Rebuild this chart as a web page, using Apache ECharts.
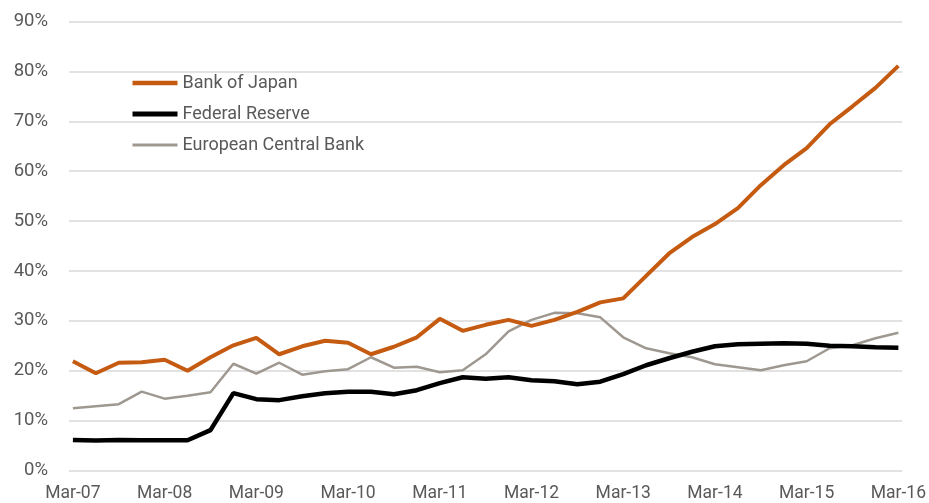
<!DOCTYPE html>
<html>
<head>
<meta charset="utf-8">
<script src="https://cdn.jsdelivr.net/npm/echarts@6/dist/echarts.min.js"></script>
<style>
html,body{margin:0;padding:0;background:#fff;}
#chart{width:929px;height:503px;}
</style>
</head>
<body>
<div id="chart"></div>
<script>
const categories = ["Mar-07","Jun-07","Sep-07","Dec-07","Mar-08","Jun-08","Sep-08","Dec-08","Mar-09","Jun-09","Sep-09","Dec-09","Mar-10","Jun-10","Sep-10","Dec-10","Mar-11","Jun-11","Sep-11","Dec-11","Mar-12","Jun-12","Sep-12","Dec-12","Mar-13","Jun-13","Sep-13","Dec-13","Mar-14","Jun-14","Sep-14","Dec-14","Mar-15","Jun-15","Sep-15","Dec-15","Mar-16"];
const bankOfJapan = [21.9,19.5,21.6,21.7,22.2,20.0,22.7,25.1,26.6,23.3,24.9,26.0,25.6,23.3,24.8,26.7,30.4,28.0,29.2,30.2,29.0,30.2,31.8,33.7,34.5,39.0,43.5,46.8,49.4,52.6,57.2,61.2,64.6,69.4,73.0,76.7,81.1];
const federalReserve = [6.1,6.0,6.1,6.05,6.05,6.05,8.1,15.5,14.3,14.1,14.9,15.5,15.8,15.8,15.3,16.1,17.5,18.7,18.4,18.7,18.1,17.9,17.3,17.8,19.3,21.1,22.5,23.8,24.9,25.3,25.4,25.5,25.4,25.0,24.9,24.7,24.6];
const europeanCentralBank = [12.5,12.9,13.3,15.8,14.4,15.0,15.7,21.4,19.4,21.6,19.2,19.9,20.3,22.7,20.6,20.8,19.7,20.1,23.3,27.9,30.2,31.6,31.5,30.7,26.7,24.5,23.5,22.7,21.3,20.7,20.1,21.1,21.9,24.5,25.1,26.5,27.6];
const xTickLabels = ["Mar-07","Mar-08","Mar-09","Mar-10","Mar-11","Mar-12","Mar-13","Mar-14","Mar-15","Mar-16"];
const yTicks = [0,10,20,30,40,50,60,70,80,90];
const seriesNames = ['Bank of Japan','Federal Reserve','European Central Bank'];

const font = 'Roboto, "Liberation Sans", Arial, sans-serif';
const xTickIdx = xTickLabels.map(l => categories.indexOf(l));
const toPairs = arr => arr.map((v, i) => [i, v]);
const colors = ['#C55A11','#000000','#9E9891'];
const widths = [4, 4.5, 2.5];
const legendWidths = [4.5, 5, 3];

const chart = echarts.init(document.getElementById('chart'), null, {renderer:'canvas'});
chart.setOption({
  animation:false,
  backgroundColor:'#fff',
  grid:{left:69,right:25,top:21.5,bottom:32.5},
  legend:{
    orient:'vertical', left:125, top:69, itemGap:13,
    itemWidth:45, itemHeight:14,
    itemStyle:{opacity:0},
    textStyle:{fontFamily:font,fontSize:18,color:'#595959'},
    data:seriesNames.map((n,i)=>({name:n,lineStyle:{width:legendWidths[i],color:colors[i]}}))
  },
  xAxis:{
    type:'value', min:-0.17, max:categories.length-1+0.17,
    axisLine:{show:false},
    axisTick:{show:false},
    axisLabel:{
      customValues:xTickIdx,
      formatter:v => categories[Math.round(v)] || '',
      fontFamily:font,fontSize:17.5,color:'#595959',margin:14
    },
    splitLine:{show:false}
  },
  yAxis:{
    type:'value', min:yTicks[0], max:yTicks[yTicks.length-1], interval:10,
    axisLine:{show:false}, axisTick:{show:false},
    axisLabel:{formatter:'{value}%',fontFamily:font,fontSize:18.5,color:'#595959',margin:21},
    splitLine:{lineStyle:{color:'#d9d9d9',width:1.5}}
  },
  series:[
    {name:seriesNames[0],type:'line',data:toPairs(bankOfJapan),symbol:'none',z:3,
     lineStyle:{color:colors[0],width:widths[0]},itemStyle:{color:colors[0]}},
    {name:seriesNames[1],type:'line',data:toPairs(federalReserve),symbol:'none',z:2,
     lineStyle:{color:colors[1],width:widths[1]},itemStyle:{color:colors[1]}},
    {name:seriesNames[2],type:'line',data:toPairs(europeanCentralBank),symbol:'none',z:1,
     lineStyle:{color:colors[2],width:widths[2]},itemStyle:{color:colors[2]}}
  ]
});
</script>
</body>
</html>
